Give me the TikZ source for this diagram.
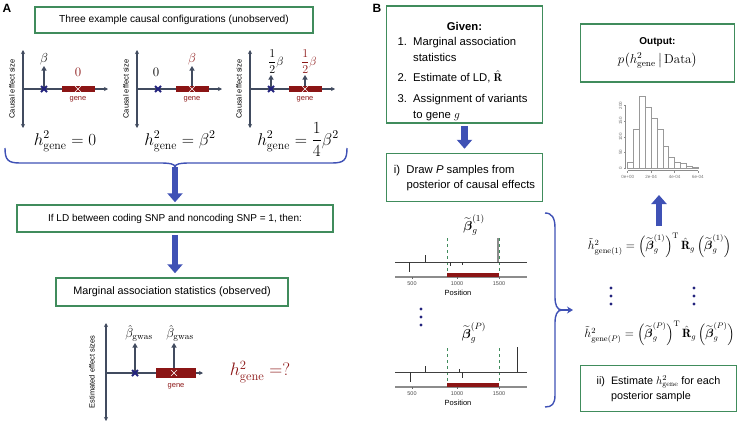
\RequirePackage{fix-cm}
\documentclass[tikz,border=0pt]{standalone}
\usepackage{amsmath}
\usepackage{fontspec}
\usepackage{tikz}
\usetikzlibrary{arrows.meta}
\newfontfamily\arialfont{Liberation Sans}
\definecolor{mygreen}{RGB}{64,140,92}
\definecolor{myred}{RGB}{139,21,21}
\definecolor{myblue}{RGB}{63,81,181}
\definecolor{mynavy}{RGB}{35,35,125}
\definecolor{myslate}{RGB}{65,75,95}

\begin{document}
\begin{tikzpicture}[x=1pt, y=-1pt,
  greenbox/.style={draw=mygreen, line width=1.5pt, fill=white, inner sep=3pt,
    font=\arialfont\fontsize{10}{12}\selectfont},
  bigarrow/.style={myblue, line width=6.5pt, -{Triangle[width=15pt,length=9pt]}},
  effarrow/.style={myslate, line width=1.6pt, -{Triangle[width=5pt,length=4.5pt]}},
  axisline/.style={myslate, line width=1.1pt},
  smalltxt/.style={font=\arialfont\fontsize{7.5}{9}\selectfont},
  mathlbl/.style={font=\fontsize{13}{15}\selectfont, inner sep=1pt},
  bigmath/.style={font=\fontsize{17}{20}\selectfont},
  ticktxt/.style={font=\arialfont\fontsize{5.5}{6}\selectfont, text=black!70},
  histtxt/.style={font=\arialfont\fontsize{4.5}{5}\selectfont, text=black!55, inner sep=0.5pt}]
  \useasboundingbox (0,0) rectangle (739,423);

  % panel letters
  \node[font=\arialfont\bfseries\fontsize{12}{14}\selectfont] (lblA) at (7,8) {A};
  \node[font=\arialfont\bfseries\fontsize{12}{14}\selectfont] (lblB) at (377,8) {B};

  % ---- A: causal configurations
  \node[greenbox, font=\arialfont\fontsize{10.2}{12}\selectfont,
    minimum width=278pt, minimum height=26pt] (conf) at (174,20)
    {Three example causal configurations (unobserved)};

  \draw[effarrow] (44,89) -- (44,66);
  \draw[effarrow] (192,89) -- (192,66);
  \draw[effarrow] (271,89) -- (271,75);
  \draw[effarrow] (305,89) -- (305,75);

  \foreach \ox in {23,137,250} {
    \draw[axisline, {Stealth[length=4pt,width=4pt]}-{Stealth[length=4pt,width=4pt]}] (\ox,50) -- (\ox,128);
    \draw[axisline, -{Stealth[length=4pt,width=4pt]}] (\ox,89) -- (\ox+85,89);
    \fill[myred] (\ox+39,86) rectangle (\ox+72,92);
    \draw[white, line width=0.6pt] (\ox+52,86) -- (\ox+58,92) (\ox+52,92) -- (\ox+58,86);
    \draw[mynavy, line width=1.8pt] (\ox+18,86) -- (\ox+24,92) (\ox+18,92) -- (\ox+24,86);
    \node[smalltxt, text=myred] (gene\ox) at (\ox+55,99) {gene};
    \node[smalltxt, rotate=90] (ylbl\ox) at (\ox-11,89) {Causal effect size};
  }

  \node[mathlbl, anchor=south] (beta1) at (44,66) {$\beta$};
  \node[mathlbl, text=myred] (zero1) at (78,72) {$0$};
  \node[mathlbl] (zero2) at (156,72) {$0$};
  \node[mathlbl, text=myred, anchor=south] (beta2) at (192,66) {$\beta$};
  \node[mathlbl, anchor=south, font=\fontsize{12}{14}\selectfont] (half1) at (276,75) {$\dfrac{1}{2}\beta$};
  \node[mathlbl, anchor=south, text=myred, font=\fontsize{12}{14}\selectfont] (half2) at (309,75) {$\dfrac{1}{2}\beta$};

  \node[bigmath, anchor=base] (eq1) at (65,145) {$h^2_{\mathrm{gene}} = 0$};
  \node[bigmath, anchor=base] (eq2) at (180,145) {$h^2_{\mathrm{gene}} = \beta^2$};
  \node[bigmath, anchor=base] (eq3) at (298,145) {$h^2_{\mathrm{gene}} = \dfrac{1}{4}\beta^2$};

  \coordinate (braceA) at (175,167);
  \draw[myblue, line width=1.4pt] (5,148) .. controls (5,160) and (8,163) .. (20,163)
    -- (160,163) .. controls (170,163) and (175,164) .. (braceA)
    .. controls (175,164) and (180,163) .. (190,163) -- (332,163)
    .. controls (344,163) and (347,160) .. (347,148);

  \node[greenbox, minimum width=316pt, minimum height=27pt] (ld) at (175,218.5)
    {If LD between coding SNP and noncoding SNP = 1, then:};
  \node[greenbox, font=\arialfont\fontsize{10.8}{12}\selectfont,
    minimum width=232pt, minimum height=28pt] (marg) at (172,292)
    {Marginal association statistics (observed)};
  \draw[bigarrow, shorten >=2pt] (braceA) -- (ld.north);
  \draw[bigarrow, shorten <=2pt, shorten >=4pt] (ld.south) -- (ld.south |- marg.north);

  % observed plot
  \draw[effarrow] (135,373) -- (135,343);
  \draw[effarrow] (174,373) -- (174,343);
  \draw[axisline, {Stealth[length=4pt,width=4pt]}-{Stealth[length=4pt,width=4pt]}] (106,323) -- (106,421);
  \draw[axisline, -{Stealth[length=4pt,width=4pt]}] (106,373) -- (203,373);
  \fill[myred] (156,368) rectangle (196,378);
  \draw[white, line width=0.6pt] (171,370) -- (177,376) (171,376) -- (177,370);
  \draw[mynavy, line width=1.8pt] (132,370) -- (138,376) (132,376) -- (138,370);
  \node[smalltxt, text=myred] (geneobs) at (176,386) {gene};
  \node[smalltxt, rotate=90] (estlbl) at (92,372) {Estimated effect sizes};
  \node[mathlbl, anchor=south] (bhat1) at (139,343) {$\hat{\beta}_{\mathrm{gwas}}$};
  \node[mathlbl, anchor=south] (bhat2) at (180,343) {$\hat{\beta}_{\mathrm{gwas}}$};
  \node[bigmath, font=\fontsize{18}{20}\selectfont, text=myred] (h2q) at (260,372) {$h^2_{\mathrm{gene}} = ?$};

  % ---- B: inference
  \node[greenbox, inner sep=3pt] (given) at (464.5,64.5)
    {\parbox[c][111pt][t]{150pt}{\fontsize{11.3}{16}\selectfont
      \vspace*{13pt}{\centering\bfseries Given:\par}\vspace{3pt}
      \hspace*{8pt}\begin{tabular}{@{}l@{\ \ }l@{}}
        1. & Marginal association\\
           & statistics\\[4pt]
        2. & Estimate of LD, $\hat{\mathbf{R}}$\\[5pt]
        3. & Assignment of variants\\
           & to gene $g$
      \end{tabular}}};
  \node[greenbox, minimum width=156pt, minimum height=48pt] (draw) at (464.5,177.5)
    {\fontsize{11.3}{15}\selectfont\begin{tabular}{@{}l@{\ \ }l@{}}
      i) & Draw \textit{P} samples from\\
         & posterior of causal effects
    \end{tabular}};
  \draw[bigarrow, shorten <=2pt, shorten >=4pt] (given.south) -- (draw.north);

  % sampled effect tracks
  \foreach \yo/\nm in {262/1, 372/P} {
    \draw[mygreen, dashed, line width=0.6pt] (447,\yo-24) -- (447,\yo+11) (499,\yo-24) -- (499,\yo+11);
    \draw[black!75, line width=0.8pt] (395,\yo) -- (527,\yo);
    \draw[black!45, line width=1.3pt] (395,\yo+15) -- (527,\yo+15);
    \fill[myred] (447,\yo+11) rectangle (499,\yo+15);
    \draw[black!60, line width=0.5pt] (412,\yo+15) -- (412,\yo+17) (457,\yo+15) -- (457,\yo+17) (499,\yo+15) -- (499,\yo+17);
    \node[ticktxt] (t500\nm) at (412,\yo+22) {500};
    \node[ticktxt] (t1000\nm) at (457,\yo+22) {1000};
    \node[ticktxt] (t1500\nm) at (499,\yo+22) {1500};
    \node[smalltxt] (pos\nm) at (458,\yo+31) {Position};
  }
  \draw[black!80, line width=0.7pt] (425,262) -- (425,255) (409,262) -- (409,272)
    (450,262) -- (450,266) (462,262) -- (462,265);
  \draw[black!45, line width=1.2pt] (498,262) -- (498,238);
  \draw[black!80, line width=0.7pt] (425,372) -- (425,366) (410,372) -- (410,382)
    (459,372) -- (459,369) (462,372) -- (462,378) (517,372) -- (517,347);
  \node[mathlbl] (bt1) at (474,225) {$\widetilde{\boldsymbol{\beta}}_g^{(1)}$};
  \node[mathlbl] (btP) at (474,333) {$\widetilde{\boldsymbol{\beta}}_g^{(P)}$};
  \foreach \yy in {309,317,325}
    \fill[mynavy] (421,\yy) circle (1.7pt);

  \coordinate (braceB) at (562,310);
  \coordinate (braceTip) at (573,310);
  \draw[myblue, line width=1.4pt] (545,213) .. controls (552,213) and (555,218) .. (555,228)
    -- (555,297) .. controls (555,305) and (557,310) .. (braceB)
    .. controls (557,310) and (555,315) .. (555,323) -- (555,395)
    .. controls (555,404) and (552,407) .. (545,407);
  \draw[myblue, line width=1.4pt, -{Stealth[length=6pt,width=7pt]}] (braceB) -- (braceTip);

  % output side
  \node[greenbox, minimum width=154pt, minimum height=58pt, align=center] (out) at (657.5,53)
    {\textbf{Output:}\\[5pt]
     {\fontsize{13}{15}\selectfont$p\bigl(h^2_{\mathrm{gene}}\,\big|\,\mathrm{Data}\bigr)$}};

  % histogram of posterior samples
  \foreach \c [count=\i from 0] in {20,125,230,195,160,125,70,35,20,15,5,2}
    \draw[black!40, line width=0.5pt] (627.7+\i*5.85,168) rectangle (633.55+\i*5.85,168-\c*0.312);
  \draw[black!45, line width=0.5pt] (625.5,168) -- (625.5,105.6);
  \foreach \v [count=\j from 0] in {0,50,100,150,200} {
    \draw[black!45, line width=0.5pt] (625.5,168-\j*15.6) -- (623.5,168-\j*15.6);
    \node[histtxt, rotate=90] (yt\j) at (620.5,168-\j*15.6) {\v};
  }
  \draw[black!45, line width=0.5pt] (627.7,170.5) -- (697.9,170.5);
  \foreach \lab [count=\j from 0] in {0e+00,2e-04,4e-04,6e-04} {
    \draw[black!45, line width=0.5pt] (627.7+\j*23.4,170.5) -- (627.7+\j*23.4,172.5);
    \node[histtxt] (xt\j) at (627.7+\j*23.4,176.5) {\lab};
  }
  \coordinate (histbase) at (659,195);

  \node[font=\fontsize{12}{14}\selectfont] (hone) at (659.5,245)
    {$\tilde{h}^2_{\mathrm{gene}(1)} = \left(\widetilde{\boldsymbol{\beta}}_g^{(1)}\right)^{\mathrm{T}}
      \hat{\mathbf{R}}_g \left(\widetilde{\boldsymbol{\beta}}_g^{(1)}\right)$};
  \node[font=\fontsize{12}{14}\selectfont] (hP) at (659.5,333)
    {$\tilde{h}^2_{\mathrm{gene}(P)} = \left(\widetilde{\boldsymbol{\beta}}_g^{(P)}\right)^{\mathrm{T}}
      \hat{\mathbf{R}}_g \left(\widetilde{\boldsymbol{\beta}}_g^{(P)}\right)$};
  \draw[bigarrow, shorten <=3pt] (hone.north -| histbase) -- (histbase);
  \foreach \xx in {611,694}
    \foreach \yy in {288,296,304}
      \fill[mynavy] (\xx,\yy) circle (1.7pt);

  \node[greenbox, minimum width=156pt, minimum height=46pt] (est) at (658.5,388.5)
    {\fontsize{10.8}{15}\selectfont\begin{tabular}{@{}l@{\ \ }l@{}}
      ii) & Estimate $h^2_{\mathrm{gene}}$ for each\\
          & posterior sample
    \end{tabular}};
\end{tikzpicture}
\end{document}
